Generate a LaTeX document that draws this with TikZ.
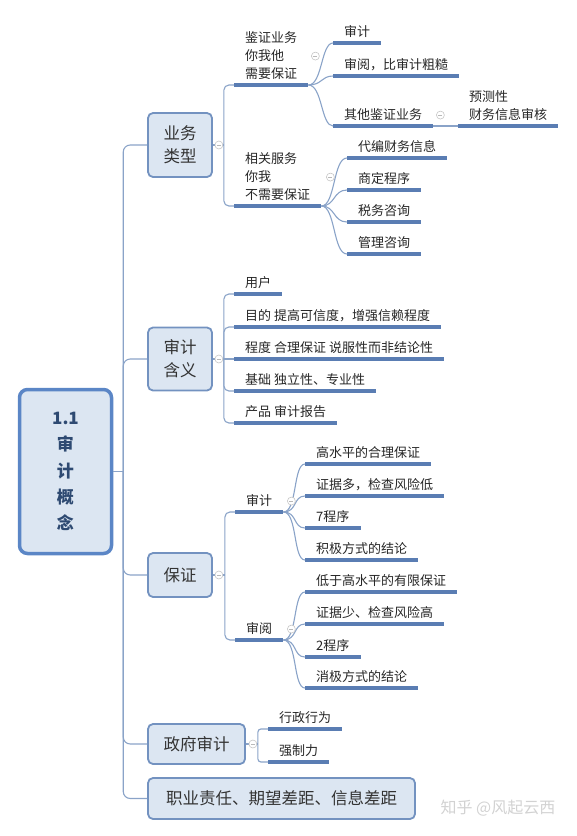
\documentclass[tikz,border=0pt]{standalone}
\usepackage{fontspec}
\setmainfont{Noto Sans CJK SC}
\usepackage{tikz}
\usetikzlibrary{positioning,calc}
\definecolor{lineblue}{HTML}{5A7DB3}
\definecolor{linkblue}{HTML}{8AA3C8}
\definecolor{boxfill}{HTML}{DCE6F2}
\definecolor{boxdraw}{HTML}{7392C0}
\definecolor{rootdraw}{HTML}{5B86C6}
\definecolor{roottext}{HTML}{2E4A72}
\tikzset{%
rootnode/.style={rectangle, rounded corners=8pt, draw=rootdraw, line width=3.5pt, fill=boxfill, text=roottext, font=\fontsize{17}{26.2}\selectfont\bfseries, align=center, inner sep=0pt, minimum width=92pt, minimum height=164pt},
mainnode/.style={rectangle, rounded corners=5pt, draw=boxdraw, line width=1.8pt, fill=boxfill, text=black!80, font=\fontsize{16.5}{23}\selectfont, align=center, inner sep=0pt},
topic/.style={anchor=south west, align=left, inner xsep=11pt, inner ysep=4pt, text depth=2.5pt, font=\fontsize{13}{18}\selectfont, text=black!85},
uline/.style={draw=lineblue, line width=3.5pt},
link/.style={draw=linkblue, line width=1.1pt},
fold/.style={circle, draw=gray!45, fill=white, line width=0.6pt, inner sep=0pt, minimum size=8pt,
  path picture={\draw[gray!55, line width=0.6pt] ([xshift=-2pt]path picture bounding box.center) -- ([xshift=2pt]path picture bounding box.center);}}
}

\begin{document}
\begin{tikzpicture}[x=1pt,y=-1pt]
	\useasboundingbox (0,0) rectangle (577,836);
	% root and main branches
	\node[rootnode] (root) at (65.5,471.5) {1.1\\审\\计\\概\\念};
	\node[mainnode, minimum width=64pt, minimum height=64pt] (ywlx) at (180,145) {业务\\类型};
	\node[mainnode, minimum width=64pt, minimum height=63pt] (sjhy) at (180,359) {审计\\含义};
	\node[mainnode, minimum width=64pt, minimum height=44pt] (bz) at (180,575) {保证};
	\node[mainnode, minimum width=97pt, minimum height=40pt] (zfsj) at (196.5,744) {政府审计};
	\node[mainnode, minimum width=267pt, minimum height=41pt] (zyzr) at (281.5,798.5) {职业责任、期望差距、信息差距};
	
	% 业务类型
	\node[topic] (jz) at (234,85) {鉴证业务\\你我他\\需要保证};
	\node[topic] (xg) at (234,206) {相关服务\\你我\\不需要保证};
	\node[topic] (sja) at (333,43) {审计};
	\node[topic] (sya) at (333,76) {审阅，比审计粗糙};
	\node[topic] (qt) at (333,126) {其他鉴证业务};
	\node[topic] (yc) at (458,126) {预测性\\财务信息审核};
	\node[topic] (db) at (347,158) {代编财务信息};
	\node[topic] (sd) at (347,190) {商定程序};
	\node[topic] (sw) at (347,222) {税务咨询};
	\node[topic] (gl) at (347,254) {管理咨询};
	
	% 审计含义
	\node[topic] (yh) at (234,294) {用户};
	\node[topic] (md) at (234,327) {目的 提高可信度，增强信赖程度};
	\node[topic] (cd) at (234,359) {程度 合理保证 说服性而非结论性};
	\node[topic] (jc) at (234,391) {基础 独立性、专业性};
	\node[topic] (cp) at (234,423) {产品 审计报告};
	
	% 保证
	\node[topic] (sjb) at (235,512) {审计};
	\node[topic] (syb) at (235,640) {审阅};
	\node[topic] (ga) at (305,464) {高水平的合理保证};
	\node[topic] (gb) at (305,496) {证据多，检查风险低};
	\node[topic] (gc) at (305,528) {7程序};
	\node[topic] (gd) at (305,560) {积极方式的结论};
	\node[topic] (ha) at (305,592) {低于高水平的有限保证};
	\node[topic] (hb) at (305,624) {证据少、检查风险高};
	\node[topic] (hc) at (305,657) {2程序};
	\node[topic] (hd) at (305,688) {消极方式的结论};
	
	% 政府审计
	\node[topic] (xz) at (268,729) {行政行为};
	\node[topic] (qz) at (268,762) {强制力};
	
	% trunk
	\coordinate (rootJ) at ([xshift=10pt]root.east);
	\draw[link] (root.east) -- (rootJ);
	\draw[link, rounded corners=7pt] (ywlx.west) -| (rootJ) |- (zyzr.west);
	\draw[link, rounded corners=7pt] (rootJ) |- (sjhy.west);
	\draw[link, rounded corners=7pt] (rootJ) |- (bz.west);
	\draw[link, rounded corners=7pt] (rootJ) |- (zfsj.west);
	
	% elbows
	\coordinate (ywlxJ) at ([xshift=11pt]ywlx.east);
	\draw[link] (ywlx.east) -- (ywlxJ);
	\draw[link, rounded corners=5pt] (jz.south west) -| (ywlxJ) |- (xg.south west);
	\coordinate (sjhyJ) at ([xshift=11pt]sjhy.east);
	\draw[link] (sjhy.east) -- (cd.south west);
	\draw[link, rounded corners=5pt] (yh.south west) -| (sjhyJ) |- (cp.south west);
	\draw[link, rounded corners=5pt] (sjhyJ) |- (md.south west);
	\draw[link, rounded corners=5pt] (sjhyJ) |- (jc.south west);
	\coordinate (bzJ) at ([xshift=12pt]bz.east);
	\draw[link] (bz.east) -- (bzJ);
	\draw[link, rounded corners=5pt] (sjb.south west) -| (bzJ) |- (syb.south west);
	\coordinate (zfsjJ) at ([xshift=12pt]zfsj.east);
	\draw[link] (zfsj.east) -- (zfsjJ);
	\draw[link, rounded corners=3pt] (xz.south west) -| (zfsjJ) |- (qz.south west);
	\draw[link] (qt.south east) -- (yc.south west);
	
	% curves
	\foreach \kid in {sja,sya,qt}
		\draw[link] (jz.south east) .. controls +(14,0) and +(-12,0) .. (\kid.south west);
	\foreach \kid in {db,sd,sw,gl}
		\draw[link] (xg.south east) .. controls +(14,0) and +(-14,0) .. (\kid.south west);
	\foreach \kid in {ga,gb,gc,gd}
		\draw[link] (sjb.south east) .. controls +(14,0) and +(-12,0) .. (\kid.south west);
	\foreach \kid in {ha,hb,hc,hd}
		\draw[link] (syb.south east) .. controls +(14,0) and +(-12,0) .. (\kid.south west);
	
	% underlines
	\foreach \t in {jz,xg,sja,sya,qt,yc,db,sd,sw,gl,yh,md,cd,jc,cp,sjb,syb,ga,gb,gc,gd,ha,hb,hc,hd,xz,qz}
		\draw[uline] (\t.south west) -- (\t.south east);
	
	% fold marks
	\node[fold] (fa) at ([xshift=6pt]ywlx.east) {};
	\node[fold] (fb) at ([xshift=6pt]sjhy.east) {};
	\node[fold] (fc) at ([xshift=6pt]bz.east) {};
	\node[fold] (fd) at ([xshift=7pt]zfsj.east) {};
	\node[fold] (fe) at ([xshift=7pt]jz.east) {};
	\node[fold] (ff) at ([xshift=9pt]xg.east) {};
	\node[fold] (fg) at ([xshift=7pt]qt.east) {};
	\node[fold] (fh) at ([xshift=8pt]sjb.east) {};
	\node[fold] (fi) at ([xshift=8pt]syb.east) {};
	
	\node[text=gray!35, font=\fontsize{16}{16}\selectfont, anchor=west] (wm) at (437,808) {知乎 @风起云西};
\end{tikzpicture}
\end{document}
